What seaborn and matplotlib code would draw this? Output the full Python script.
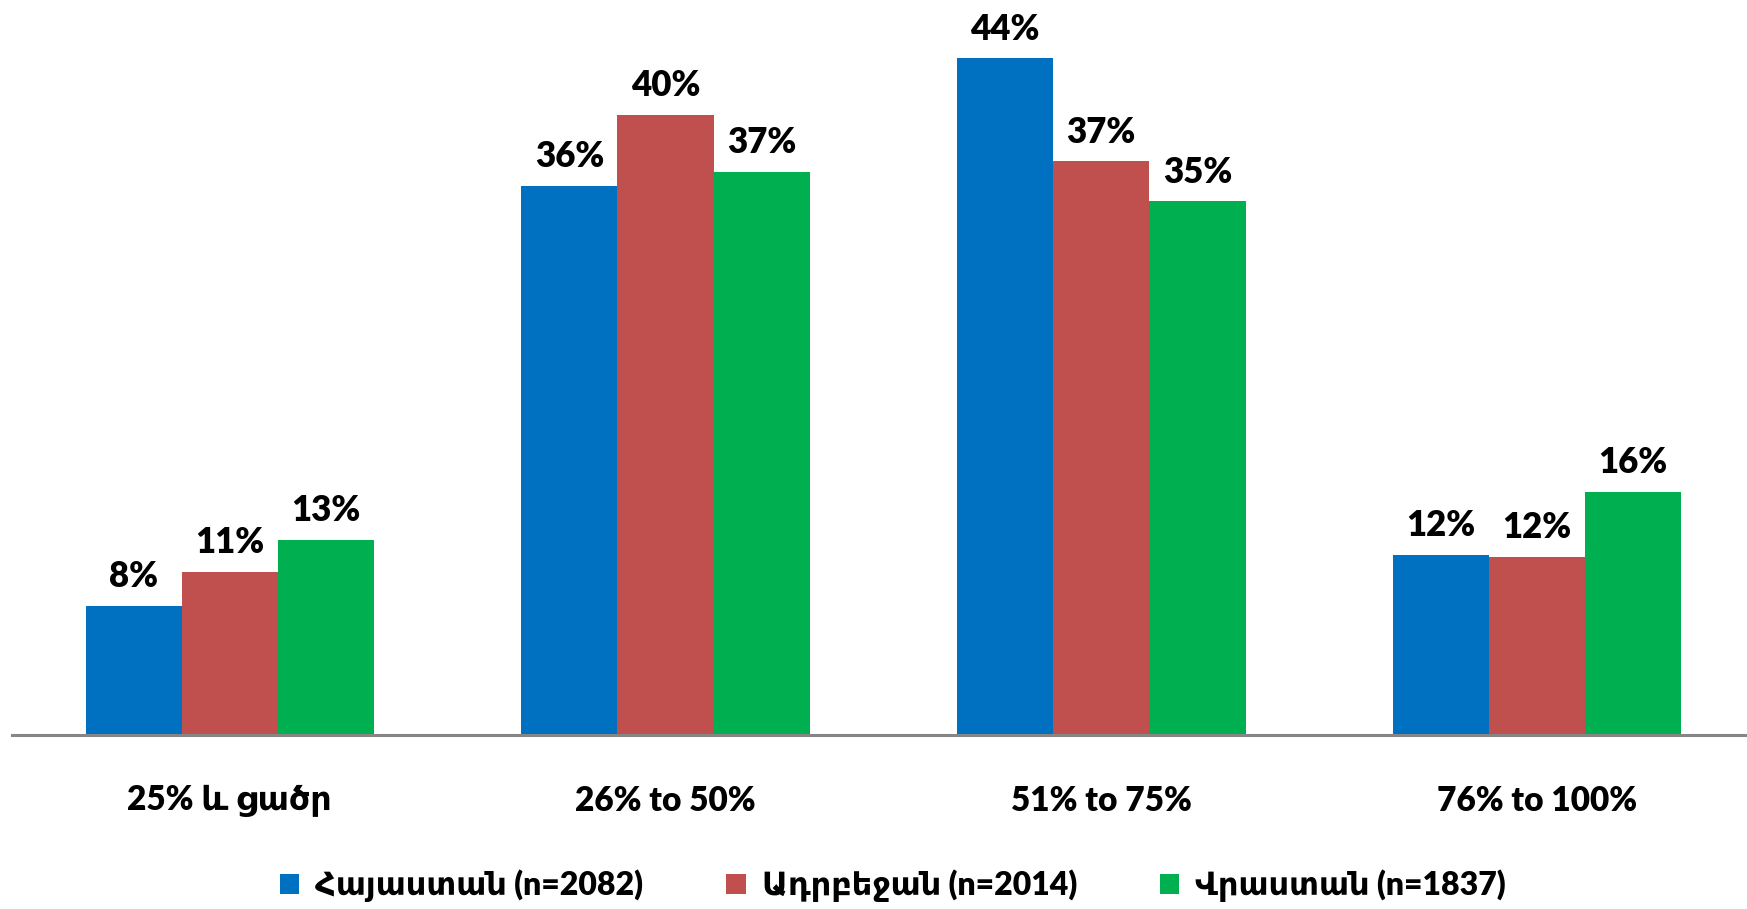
import matplotlib
matplotlib.use("Agg")
import matplotlib.pyplot as plt
import seaborn as sns
import pandas as pd

categories = ["25% և ցածր", "26% to 50%", "51% to 75%", "76% to 100%"]
series_names = ["Հայաստան (n=2082)", "Ադրբեջան (n=2014)", "Վրաստան (n=1837)"]
armenia = [8.4, 35.7, 44.0, 11.7]
azerbaijan = [10.6, 40.3, 37.3, 11.6]
georgia = [12.7, 36.6, 34.7, 15.8]
labels_armenia = ["8%", "36%", "44%", "12%"]
labels_azerbaijan = ["11%", "40%", "37%", "12%"]
labels_georgia = ["13%", "37%", "35%", "16%"]
colors = ["#0070C0", "#C0504D", "#00B050"]

sns.set_theme(style="white")
FONT = ["Lato", "DejaVu Sans"]
plt.rcParams["font.family"] = FONT
WEIGHT = 800

rows = []
for name, vals in zip(series_names, [armenia, azerbaijan, georgia]):
    for c, v in zip(categories, vals):
        rows.append({"category": c, "series": name, "value": v})
df = pd.DataFrame(rows)

W, H = 1747, 909
fig = plt.figure(figsize=(W / 100, H / 100), dpi=100)
base_y = 735
ymax = 46
px_per = 677 / 44.0
ax_h = ymax * px_per
ax = fig.add_axes([12 / W, (H - base_y) / H, 1742.8 / W, ax_h / H])

sns.barplot(data=df, x="category", y="value", hue="series", order=categories,
            hue_order=series_names, palette=colors, width=0.6625, gap=0,
            linewidth=0, saturation=1, ax=ax, legend=True)

ax.set_xlim(-0.5, 3.5)
ax.set_ylim(0, ymax)
ax.set_xlabel("")
ax.set_ylabel("")
ax.set_yticks([])
for s in ["top", "right", "left"]:
    ax.spines[s].set_visible(False)
ax.spines["bottom"].set_color("#868686")
ax.spines["bottom"].set_linewidth(2.2)

for cont, labs in zip(ax.containers, [labels_armenia, labels_azerbaijan, labels_georgia]):
    ax.bar_label(cont, labels=labs, padding=9, fontsize=25, fontweight=WEIGHT,
                 color="black", family=FONT)

ax.tick_params(axis="x", length=0, pad=36)
ax.set_xticks(range(len(categories)))
ax.set_xticklabels(categories, fontsize=24, fontweight=WEIGHT, family=FONT, color="black")

handles, labs = ax.get_legend_handles_labels()
leg = ax.legend(handles, labs, loc="center", bbox_to_anchor=(893 / W, 23 / H),
                bbox_transform=fig.transFigure, ncol=3, frameon=False,
                prop={"family": FONT, "size": 23, "weight": WEIGHT},
                handlelength=0.6, handleheight=0.6, handletextpad=0.5,
                columnspacing=2.6, borderpad=0)
for t in leg.get_texts():
    t.set_fontweight(WEIGHT)
    t.set_color("black")

fig.savefig("out.png", dpi=100)
